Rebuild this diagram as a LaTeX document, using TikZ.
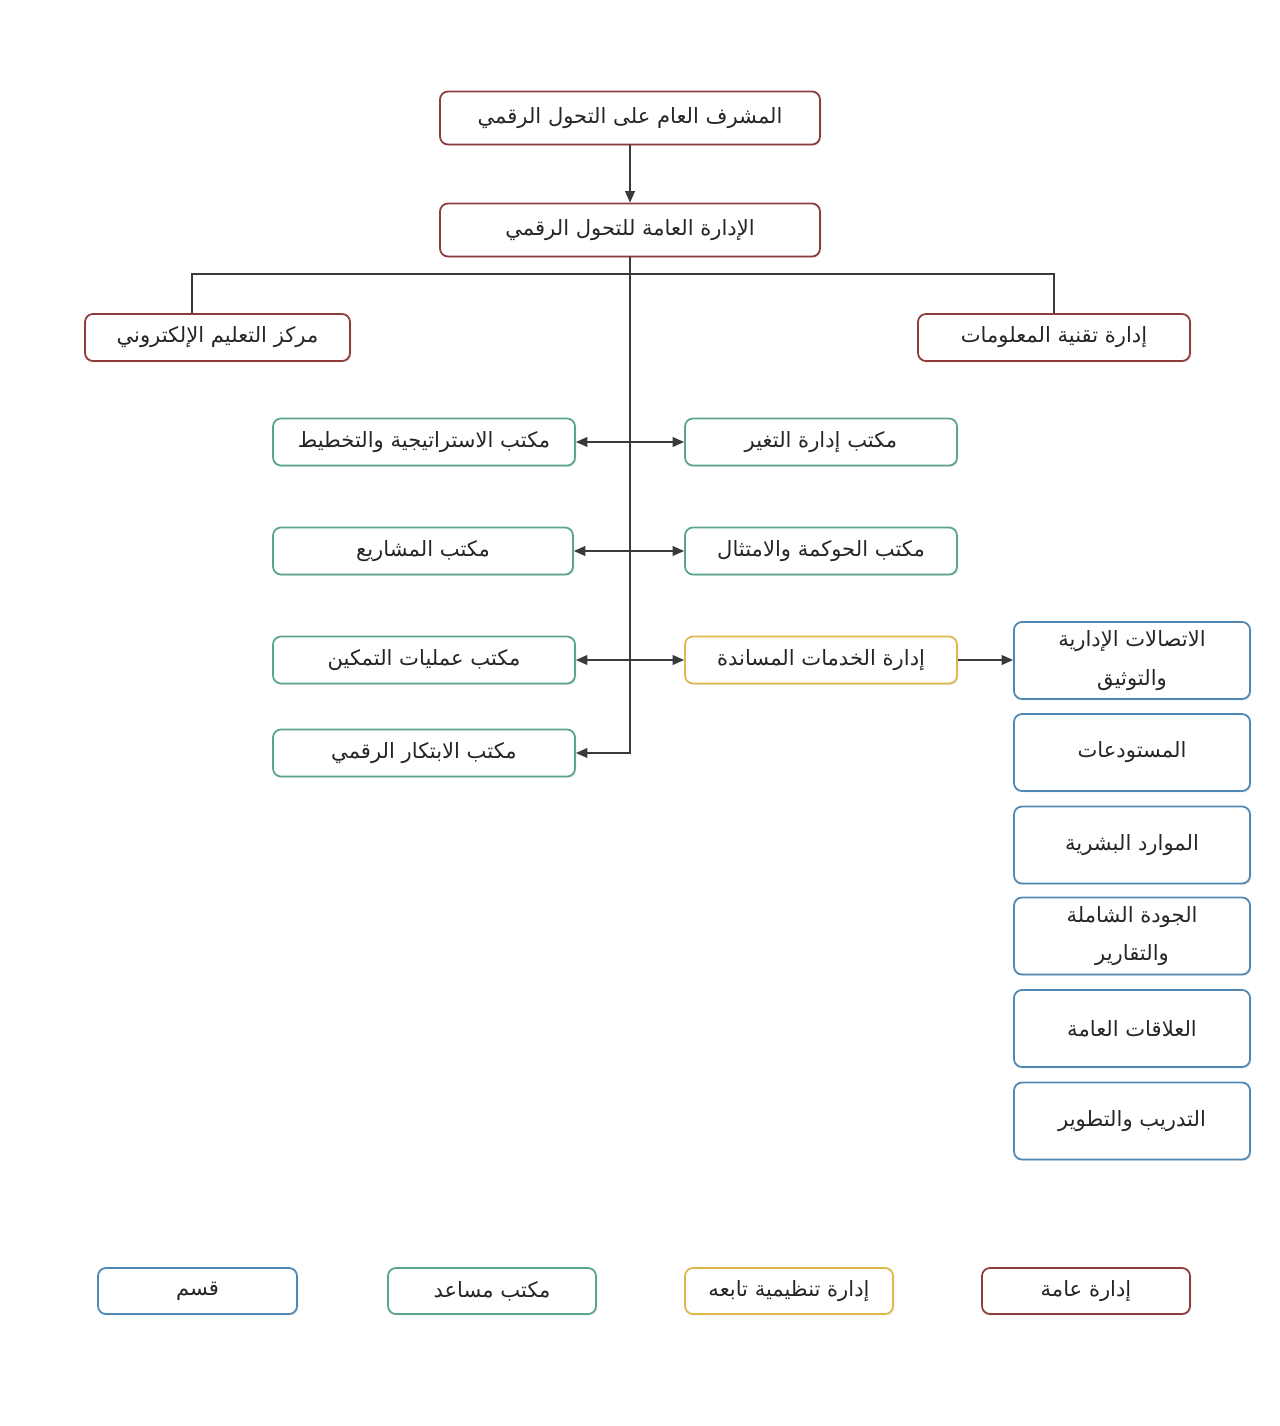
\documentclass[tikz,border=0pt]{standalone}
\usepackage{fontspec}
\usetikzlibrary{arrows.meta,shadows}
\newfontfamily\arabicfont[Script=Arabic]{DejaVu Sans}
\TeXXeTstate=1
\definecolor{cred}{HTML}{8E3B3B}
\definecolor{cgreen}{HTML}{5AA58A}
\definecolor{cyellow}{HTML}{DDB94A}
\definecolor{cblue}{HTML}{4F88B5}
\definecolor{cline}{HTML}{3A3A3A}
\tikzset{
  box/.style={draw, line width=1pt, rounded corners=4.5pt, fill=white, align=center,
    font=\arabicfont\fontsize{12}{22}\selectfont, text=black!85,
    drop shadow={shadow xshift=0.8pt, shadow yshift=-0.8pt, opacity=0.18}},
  redbox/.style={box, draw=cred},
  greenbox/.style={box, draw=cgreen},
  yellowbox/.style={box, draw=cyellow},
  bluebox/.style={box, draw=cblue},
  conn/.style={draw=cline, line width=0.9pt},
  arr/.style={conn, -{Triangle[length=6.5pt,width=5.5pt]}},
  darr/.style={conn, {Triangle[length=6.5pt,width=5.5pt]}-{Triangle[length=6.5pt,width=5.5pt]}}
}
\newcommand{\ar}[1]{\beginR #1\endR}
\begin{document}
\begin{tikzpicture}[x=0.02cm,y=-0.02cm]
\useasboundingbox (0,0) rectangle (1280,1426);
% top
\node[redbox, minimum width=7.6cm, minimum height=1.06cm] (A) at (630,118) {\ar{المشرف العام على التحول الرقمي}};
\node[redbox, minimum width=7.6cm, minimum height=1.06cm] (B) at (630,230) {\ar{الإدارة العامة للتحول الرقمي}};
\node[redbox, minimum width=5.3cm, minimum height=0.94cm] (C) at (217.5,337.5) {\ar{مركز التعليم الإلكتروني}};
\node[redbox, minimum width=5.44cm, minimum height=0.94cm] (D) at (1054,337.5) {\ar{إدارة تقنية المعلومات}};
% left green column
\node[greenbox, minimum width=6.04cm, minimum height=0.94cm] (L1) at (424,442) {\ar{مكتب الاستراتيجية والتخطيط}};
\node[greenbox, minimum width=6.0cm, minimum height=0.94cm] (L2) at (423,551) {\ar{مكتب المشاريع}};
\node[greenbox, minimum width=6.04cm, minimum height=0.94cm] (L3) at (424,660) {\ar{مكتب عمليات التمكين}};
\node[greenbox, minimum width=6.04cm, minimum height=0.94cm] (L4) at (424,753) {\ar{مكتب الابتكار الرقمي}};
% right column
\node[greenbox, minimum width=5.44cm, minimum height=0.94cm] (R1) at (821,442) {\ar{مكتب إدارة التغير}};
\node[greenbox, minimum width=5.44cm, minimum height=0.94cm] (R2) at (821,551) {\ar{مكتب الحوكمة والامتثال}};
\node[yellowbox, minimum width=5.44cm, minimum height=0.94cm] (Y) at (821,660) {\ar{إدارة الخدمات المساندة}};
% blue column
\node[bluebox, minimum width=4.72cm, minimum height=1.54cm] (S1) at (1132,660.5) {\ar{الاتصالات الإدارية}\\\ar{والتوثيق}};
\node[bluebox, minimum width=4.72cm, minimum height=1.54cm] (S2) at (1132,752.5) {\ar{المستودعات}};
\node[bluebox, minimum width=4.72cm, minimum height=1.54cm] (S3) at (1132,845) {\ar{الموارد البشرية}};
\node[bluebox, minimum width=4.72cm, minimum height=1.54cm] (S4) at (1132,936) {\ar{الجودة الشاملة}\\\ar{والتقارير}};
\node[bluebox, minimum width=4.72cm, minimum height=1.54cm] (S5) at (1132,1028.5) {\ar{العلاقات العامة}};
\node[bluebox, minimum width=4.72cm, minimum height=1.54cm] (S6) at (1132,1121) {\ar{التدريب والتطوير}};
% legend
\node[bluebox, minimum width=3.98cm, minimum height=0.92cm] (G1) at (197.5,1291) {\ar{قسم}};
\node[greenbox, minimum width=4.16cm, minimum height=0.92cm] (G2) at (492,1291) {\ar{مكتب مساعد}};
\node[yellowbox, minimum width=4.16cm, minimum height=0.92cm] (G3) at (789,1291) {\ar{إدارة تنظيمية تابعه}};
\node[redbox, minimum width=4.16cm, minimum height=0.92cm] (G4) at (1086,1291) {\ar{إدارة عامة}};
% connectors
\coordinate (hL) at (630,274);
\coordinate (cL) at (192,274);
\draw[arr] (A) -- (B);
\draw[conn] (C.north -| cL) -- (cL) -- (hL) -| (D.north);
\draw[arr] (B.south) |- (L4.east);
\draw[darr] (L1.east) -- (R1.west);
\draw[darr] (L2.east) -- (R2.west);
\draw[darr] (L3.east) -- (Y.west);
\draw[arr] (Y.east) -- (Y.east -| S1.west);
\end{tikzpicture}
\end{document}
